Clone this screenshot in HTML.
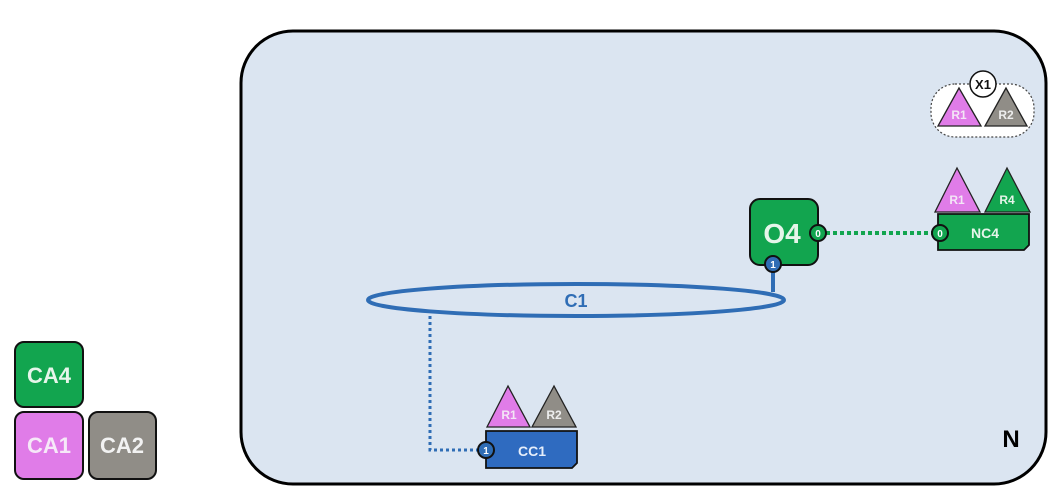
<!DOCTYPE html>
<html><head><meta charset="utf-8"><style>
html,body{margin:0;padding:0;background:#fff;}
svg{display:block;}
text{font-family:"Liberation Sans",sans-serif;font-weight:bold;}
</style></head><body>
<svg width="1060" height="501" viewBox="0 0 1060 501" xmlns="http://www.w3.org/2000/svg">
<rect x="241" y="31" width="805" height="453" rx="52" fill="#dbe5f1" stroke="#000" stroke-width="3"/>
<text x="1011" y="447" font-size="24" text-anchor="middle" fill="#000">N</text>

<!-- X1 group -->
<rect x="931" y="84" width="103" height="53" rx="24" fill="#fff" stroke="#444" stroke-width="1.2" stroke-dasharray="2,2"/>
<polygon points="959,88 938,126 981,126" fill="#e07ce8" stroke="#222" stroke-width="1.3"/>
<polygon points="1006,88 985,126 1027,126" fill="#908d87" stroke="#222" stroke-width="1.3"/>
<text x="959" y="119" font-size="12" text-anchor="middle" fill="#f3e6f6">R1</text>
<text x="1006" y="119" font-size="12" text-anchor="middle" fill="#eee">R2</text>
<circle cx="983" cy="84" r="13" fill="#fff" stroke="#111" stroke-width="1.5"/>
<text x="983" y="89" font-size="13" text-anchor="middle" fill="#111">X1</text>

<!-- NC4 -->
<polygon points="957,168 935,212 980,212" fill="#e07ce8" stroke="#222" stroke-width="1.3"/>
<polygon points="1007,168 985,212 1030,212" fill="#12a54f" stroke="#222" stroke-width="1.3"/>
<text x="957" y="204" font-size="12" text-anchor="middle" fill="#f3e6f6">R1</text>
<text x="1007" y="204" font-size="12" text-anchor="middle" fill="#e6f5ea">R4</text>
<path d="M938,214 H1029 V245 L1024,250 H938 Z" fill="#12a54f" stroke="#111" stroke-width="1.8"/>
<text x="985" y="238" font-size="14" text-anchor="middle" fill="#e6f5ea">NC4</text>

<line x1="826" y1="233" x2="932" y2="233" stroke="#12a54f" stroke-width="4" stroke-dasharray="4,3"/>

<!-- O4 -->
<rect x="750" y="199" width="68" height="66" rx="10" fill="#12a54f" stroke="#111" stroke-width="2"/>
<text x="782" y="243" font-size="28" text-anchor="middle" fill="#e6f5ea">O4</text>
<circle cx="818" cy="233" r="8" fill="#12a54f" stroke="#111" stroke-width="2"/>
<text x="818" y="237" font-size="10" text-anchor="middle" fill="#fff">0</text>
<circle cx="940" cy="233" r="8" fill="#12a54f" stroke="#111" stroke-width="2"/>
<text x="940" y="237" font-size="10" text-anchor="middle" fill="#fff">0</text>

<!-- C1 -->
<line x1="773" y1="270" x2="773" y2="292" stroke="#2f6db5" stroke-width="4"/>
<circle cx="773" cy="264" r="8" fill="#2f6db5" stroke="#111" stroke-width="2"/>
<text x="773" y="268" font-size="10" text-anchor="middle" fill="#fff">1</text>
<ellipse cx="576" cy="300" rx="208" ry="16" fill="none" stroke="#2f6db5" stroke-width="4"/>
<text x="576" y="307" font-size="18" text-anchor="middle" fill="#2f6db5">C1</text>

<polyline points="430,316 430,450 478,450" fill="none" stroke="#2f6db5" stroke-width="3" stroke-dasharray="3,3"/>

<!-- CC1 -->
<polygon points="508,386 487,427 530,427" fill="#e07ce8" stroke="#222" stroke-width="1.3"/>
<polygon points="554,386 532,427 576,427" fill="#908d87" stroke="#222" stroke-width="1.3"/>
<text x="509" y="419" font-size="12" text-anchor="middle" fill="#f3e6f6">R1</text>
<text x="554" y="419" font-size="12" text-anchor="middle" fill="#eee">R2</text>
<path d="M486,431 H577 V463 L572,468 H486 Z" fill="#2f6bc0" stroke="#111" stroke-width="1.8"/>
<text x="532" y="456" font-size="14" text-anchor="middle" fill="#e6eefa">CC1</text>
<circle cx="486" cy="450" r="8" fill="#2f6db5" stroke="#111" stroke-width="2"/>
<text x="486" y="454" font-size="10" text-anchor="middle" fill="#fff">1</text>

<!-- legend -->
<rect x="15" y="342" width="68" height="65" rx="9" fill="#12a54f" stroke="#111" stroke-width="2"/>
<text x="49" y="383" font-size="22" text-anchor="middle" fill="#e6f5ea">CA4</text>
<rect x="15" y="412" width="68" height="67" rx="9" fill="#e07ce8" stroke="#111" stroke-width="2"/>
<text x="49" y="453" font-size="22" text-anchor="middle" fill="#f6e8f8">CA1</text>
<rect x="89" y="412" width="67" height="67" rx="9" fill="#908d87" stroke="#111" stroke-width="2"/>
<text x="122" y="453" font-size="22" text-anchor="middle" fill="#f2f2f2">CA2</text>
</svg>
</body></html>
